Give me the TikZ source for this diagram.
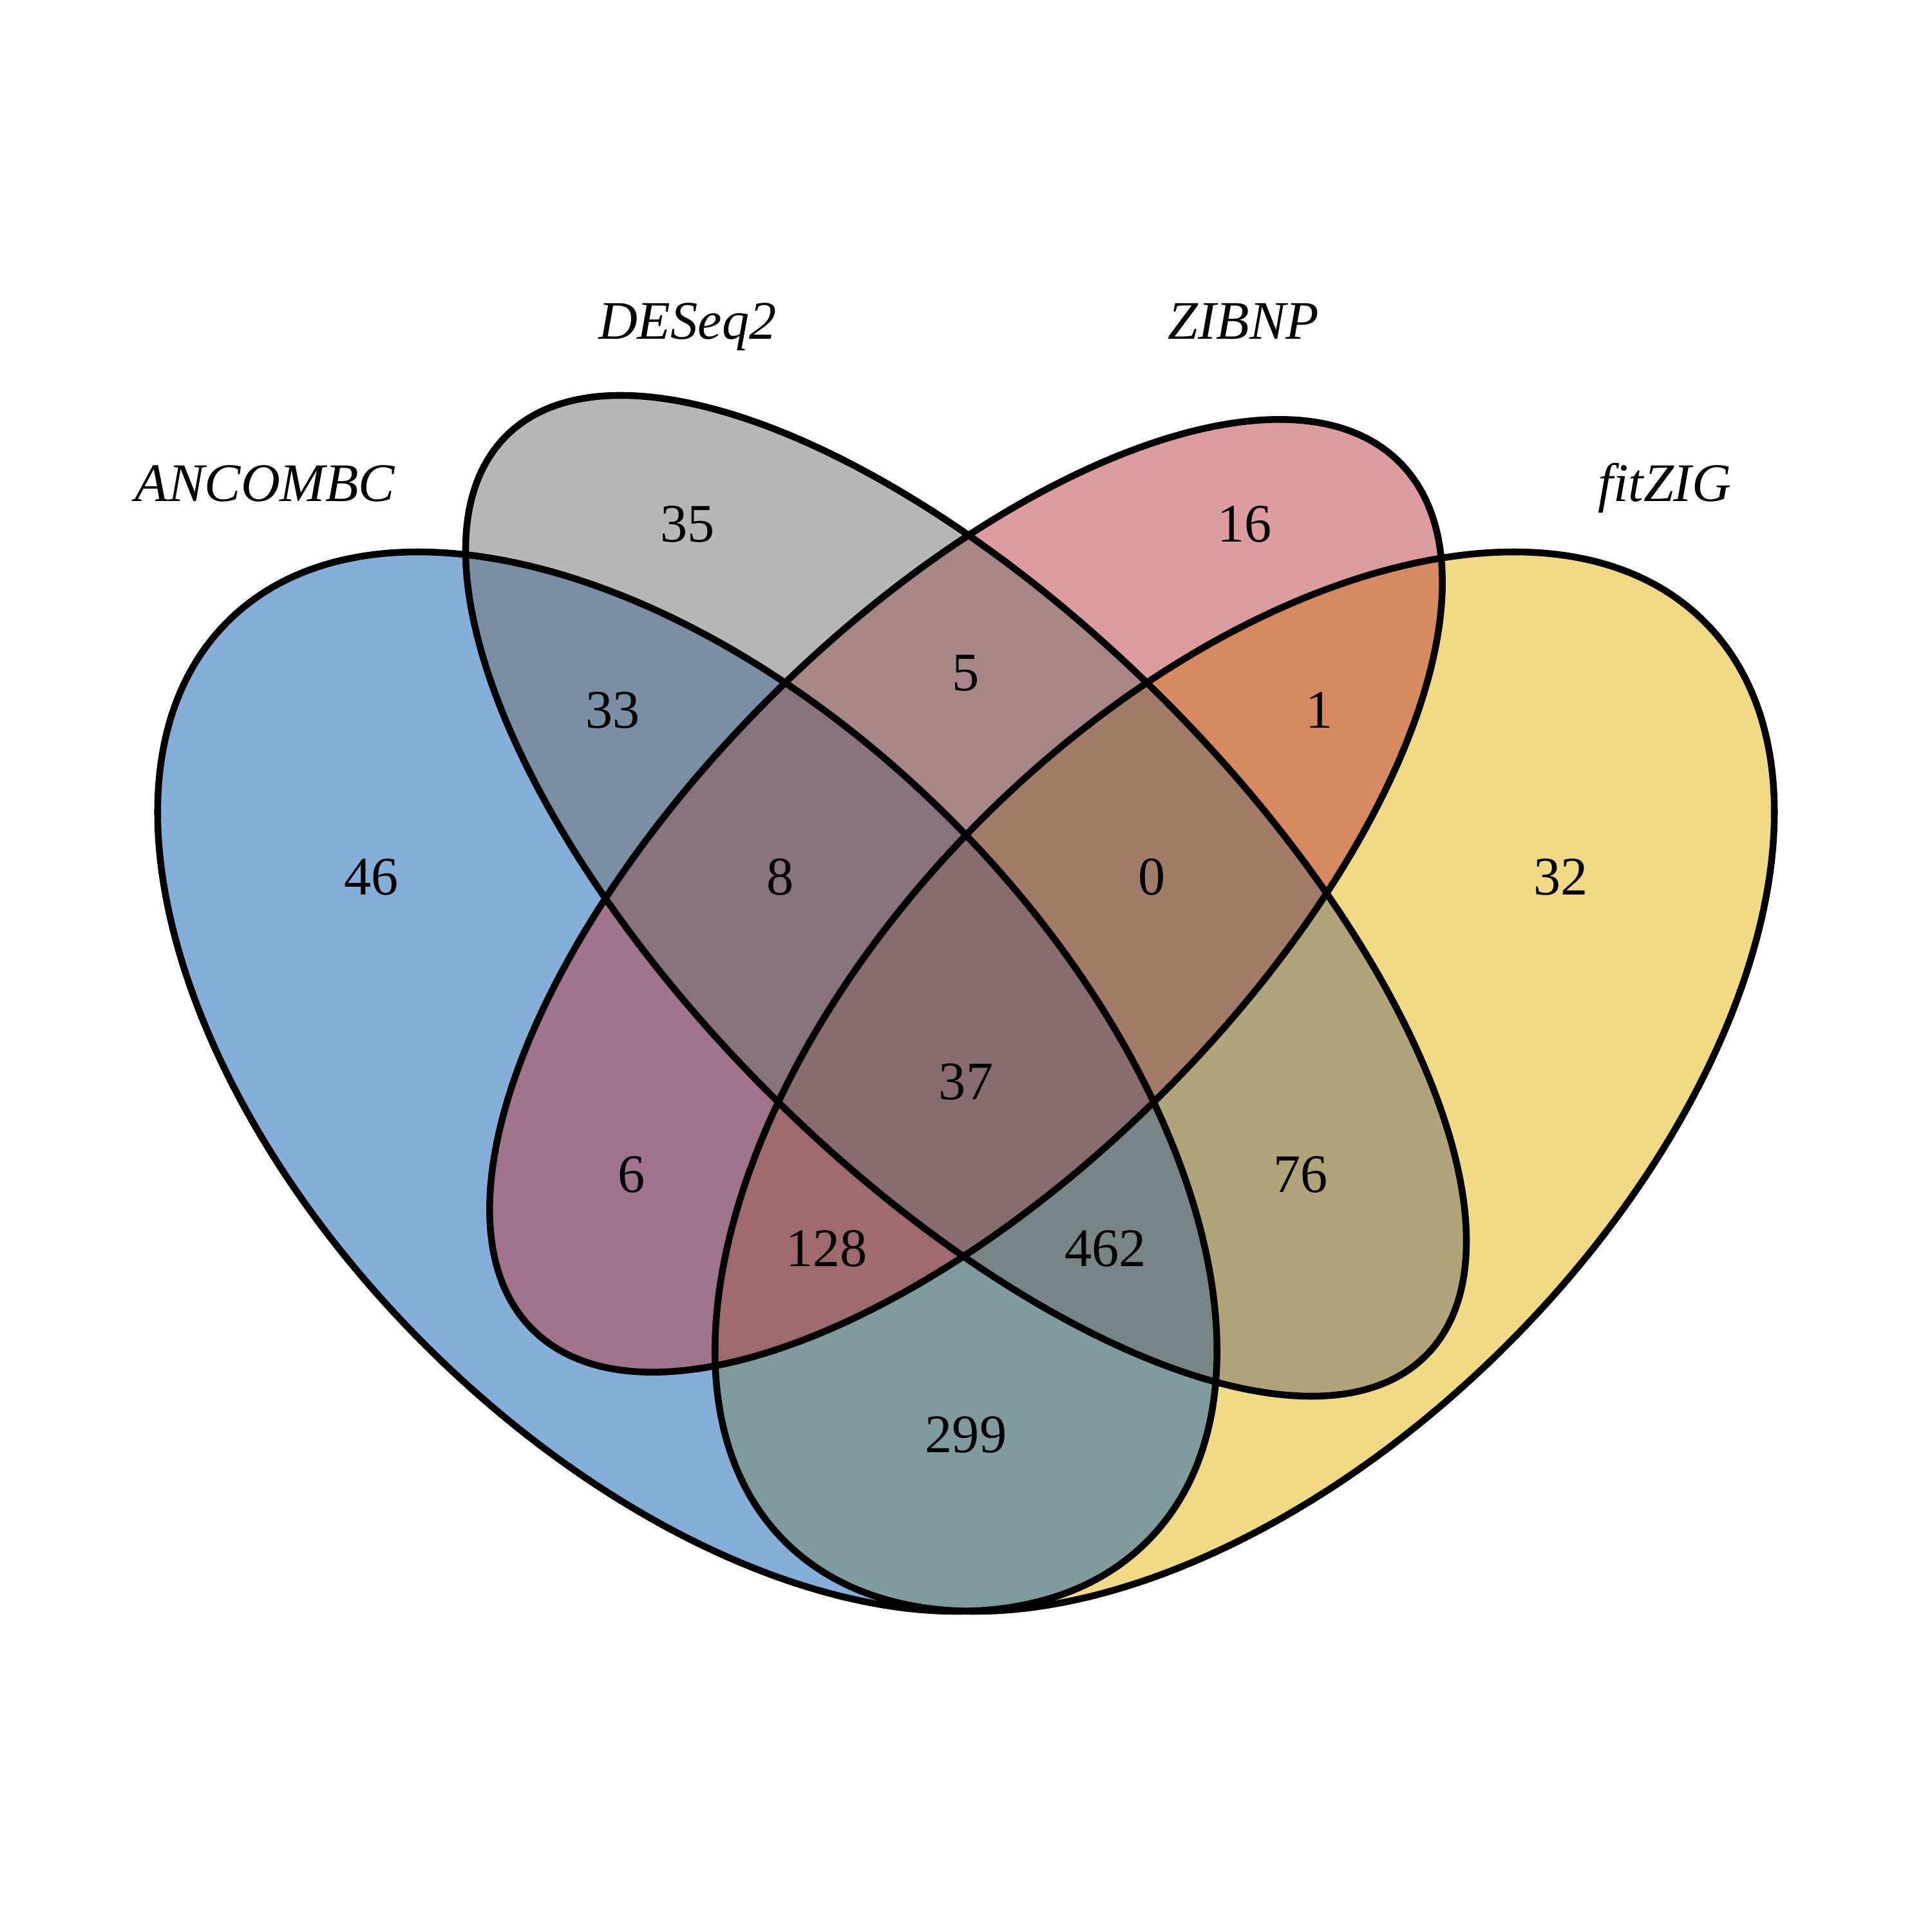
\documentclass[tikz,border=0pt]{standalone}
\usepackage{fontspec}
\setmainfont{Liberation Serif}
\definecolor{cblue}{RGB}{13,95,181}
\definecolor{cgrey}{RGB}{113,113,113}
\definecolor{cred}{RGB}{189,59,63}
\definecolor{cyellow}{RGB}{231,181,15}
\tikzset{
  setfill/.style={fill=#1, fill opacity=0.5, draw=none},
  setline/.style={draw=black, line width=3pt, fill=none},
  count/.style={font=\fontsize{24pt}{28pt}\selectfont, inner sep=0pt, anchor=center},
  setname/.style={font=\fontsize{24pt}{28pt}\selectfont\itshape, inner sep=0pt, anchor=base},
}
\begin{document}
\begin{tikzpicture}[x=28.85cm,y=28.85cm]
\useasboundingbox[fill=white] (-0.01993,0.01230) rectangle (1.01993,1.05217);
% fills (order: fitZIG, ANCOMBC, ZIBNP, DESeq2)
\fill[setfill=cyellow, rotate around={45:(0.65,0.47)}] (0.65,0.47) ellipse [x radius=0.35, y radius=0.20];
\fill[setfill=cblue, rotate around={-45:(0.35,0.47)}] (0.35,0.47) ellipse [x radius=0.35, y radius=0.20];
\fill[setfill=cred, rotate around={45:(0.5,0.57)}] (0.5,0.57) ellipse [x radius=0.33, y radius=0.15];
\fill[setfill=cgrey, rotate around={-45:(0.5,0.57)}] (0.5,0.57) ellipse [x radius=0.35, y radius=0.15];
% outlines
\draw[setline, rotate around={45:(0.65,0.47)}] (0.65,0.47) ellipse [x radius=0.35, y radius=0.20];
\draw[setline, rotate around={-45:(0.35,0.47)}] (0.35,0.47) ellipse [x radius=0.35, y radius=0.20];
\draw[setline, rotate around={45:(0.5,0.57)}] (0.5,0.57) ellipse [x radius=0.33, y radius=0.15];
\draw[setline, rotate around={-45:(0.5,0.57)}] (0.5,0.57) ellipse [x radius=0.35, y radius=0.15];
% counts
\node[count] (n35)  at (0.350,0.77) {35};
\node[count] (n5)   at (0.500,0.69) {5};
\node[count] (n16)  at (0.650,0.77) {16};
\node[count] (n33)  at (0.310,0.67) {33};
\node[count] (n1)   at (0.690,0.67) {1};
\node[count] (n46)  at (0.180,0.58) {46};
\node[count] (n8)   at (0.400,0.58) {8};
\node[count] (n0)   at (0.600,0.58) {0};
\node[count] (n32)  at (0.820,0.58) {32};
\node[count] (n37)  at (0.500,0.47) {37};
\node[count] (n6)   at (0.320,0.42) {6};
\node[count] (n76)  at (0.680,0.42) {76};
\node[count] (n128) at (0.425,0.38) {128};
\node[count] (n462) at (0.575,0.38) {462};
\node[count] (n299) at (0.500,0.28) {299};
% set names
\node[setname] (lA) at (0.1227,0.7824) {ANCOMBC};
\node[setname] (lD) at (0.3500,0.8698) {DESeq2};
\node[setname] (lZ) at (0.6494,0.8698) {ZIBNP};
\node[setname] (lF) at (0.8760,0.7824) {fitZIG};
\end{tikzpicture}
\end{document}
